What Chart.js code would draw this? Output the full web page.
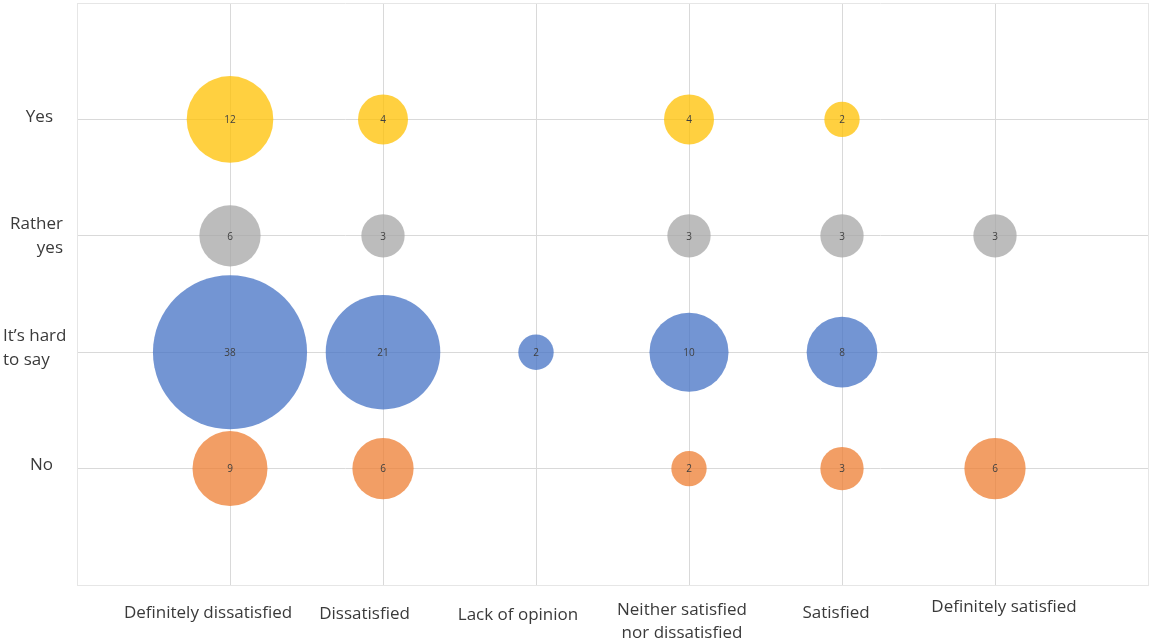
<!DOCTYPE html>
<html>
<head>
<meta charset="utf-8">
<script src="https://cdn.jsdelivr.net/npm/chart.js@4/dist/chart.umd.min.js"></script>
<style>
  html, body { margin: 0; padding: 0; background: #ffffff; }
  #wrap { width: 1150px; height: 643px; }
</style>
</head>
<body>
<div id="wrap"><canvas id="c" width="1150" height="643"></canvas></div>
<script>
// Satisfaction level (x = 1..6) against answer (y = 1..4, bottom to top)
const satisfaction = [
  'Definitely dissatisfied',
  'Dissatisfied',
  'Lack of opinion',
  ['Neither satisfied', 'nor dissatisfied'],
  'Satisfied',
  'Definitely satisfied'
];
const answers = ['No', ['It’s hard', 'to say'], ['Rather', 'yes'], 'Yes'];

// Respondent counts per satisfaction level (null = no bubble)
const yesCounts       = [12, 4, null, 4, 2, null];
const ratherYesCounts = [6, 3, null, 3, 3, 3];
const hardToSayCounts = [38, 21, 2, 10, 8, null];
const noCounts        = [9, 6, null, 2, 3, 6];

const FONT = '"Open Sans", sans-serif';

// bubble area proportional to the count
function radius(v) { return Math.sqrt(v) * 12.5; }

function points(counts, row) {
  const out = [];
  counts.forEach((v, i) => {
    if (v !== null) out.push({ x: i + 1, y: row, r: radius(v), v: v });
  });
  return out;
}

const datasets = [
  { label: 'Yes',              data: points(yesCounts, 4),       backgroundColor: 'rgba(255,192,0,0.75)' },
  { label: 'Rather yes',       data: points(ratherYesCounts, 3), backgroundColor: 'rgba(165,165,165,0.75)' },
  { label: 'It’s hard to say', data: points(hardToSayCounts, 2), backgroundColor: 'rgba(68,114,196,0.75)' },
  { label: 'No',               data: points(noCounts, 1),        backgroundColor: 'rgba(237,125,49,0.75)' }
];
datasets.forEach(d => { d.borderWidth = 0; d.hoverBorderWidth = 0; });

// count printed in the middle of each bubble
const bubbleValues = {
  id: 'bubbleValues',
  afterDatasetsDraw(chart) {
    const ctx = chart.ctx;
    ctx.save();
    ctx.font = '10px ' + FONT;
    ctx.fillStyle = '#404040';
    ctx.textAlign = 'center';
    ctx.textBaseline = 'middle';
    chart.data.datasets.forEach((ds, di) => {
      chart.getDatasetMeta(di).data.forEach((el, k) => {
        ctx.fillText(String(ds.data[k].v), el.x, el.y + 1);
      });
    });
    ctx.restore();
  }
};

// category names along both axes
const categoryText = {
  id: 'categoryText',
  afterDraw(chart, args, opts) {
    const { ctx, chartArea, scales } = chart;
    ctx.save();
    ctx.font = '17px ' + FONT;
    ctx.fillStyle = '#3a3a3a';
    ctx.textBaseline = 'middle';

    ctx.textAlign = 'center';
    satisfaction.forEach((lab, i) => {
      const lines = Array.isArray(lab) ? lab : [lab];
      const cx = scales.x.getPixelForValue(i + 1) + opts.xShift[i];
      const cy = chartArea.bottom + opts.xDrop[i];
      lines.forEach((t, k) => ctx.fillText(t, cx, cy + k * 23));
    });

    answers.forEach((lab, i) => {
      const lines = Array.isArray(lab) ? lab : [lab];
      const place = opts.yPlace[i];
      const cy = scales.y.getPixelForValue(i + 1) + place.dy;
      ctx.textAlign = place.align;
      lines.forEach((t, k) => ctx.fillText(t, place.x, cy + k * 24));
    });
    ctx.restore();
  }
};

const edge = '#e6e6e6';
const inner = '#d9d9d9';

new Chart(document.getElementById('c'), {
  type: 'bubble',
  data: { datasets },
  plugins: [bubbleValues, categoryText],
  options: {
    responsive: false,
    animation: false,
    events: [],
    layout: { autoPadding: false, padding: { top: 3, right: 2, left: 0, bottom: 0 } },
    plugins: {
      legend: { display: false },
      tooltip: { enabled: false },
      categoryText: {
        xShift: [-22, -18.5, -18, -7, -6, 9],
        xDrop: [28, 29, 30, 25, 28, 22],
        yPlace: [
          { align: 'right', x: 53, dy: -3 },
          { align: 'left', x: 3, dy: -16 },
          { align: 'right', x: 63, dy: -12 },
          { align: 'right', x: 53, dy: -2 }
        ]
      }
    },
    scales: {
      x: {
        type: 'linear', min: 0, max: 7,
        ticks: { display: false, stepSize: 1 },
        grid: {
          drawTicks: false,
          color: c => (c.tick.value === 0 || c.tick.value === 7) ? edge : inner
        },
        border: { display: true, color: edge },
        afterFit: s => { s.height = 58; }
      },
      y: {
        type: 'linear', min: 0, max: 5,
        ticks: { display: false, stepSize: 1 },
        grid: {
          drawTicks: false,
          color: c => (c.tick.value === 0 || c.tick.value === 5) ? edge : inner
        },
        border: { display: true, color: edge },
        afterFit: s => { s.width = 77; }
      }
    }
  }
});
</script>
</body>
</html>
